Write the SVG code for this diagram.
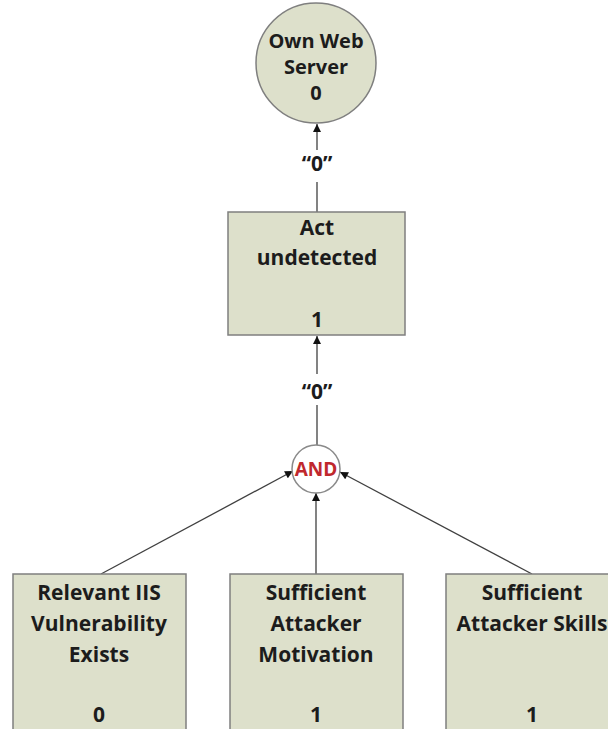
<svg xmlns="http://www.w3.org/2000/svg" width="608" height="729" viewBox="0 0 608 729">
<style>
.node{fill:#dde0cb;stroke:#7f7f7f;stroke-width:1.5}
.t{font-family:"Open Sans","Liberation Sans",sans-serif;font-weight:700;font-size:21px;fill:#1c1c1c;text-anchor:middle}
.tc{font-family:"Open Sans","Liberation Sans",sans-serif;font-weight:700;font-size:20px;fill:#1c1c1c;text-anchor:middle}
.lbl{font-family:"Open Sans","Liberation Sans",sans-serif;font-weight:700;font-size:21px;fill:#1c1c1c;text-anchor:middle}
.edge{stroke:#404040;stroke-width:1.3;fill:none}
.gate{fill:#ffffff;stroke:#8a8a8a;stroke-width:1.5}
.and{font-family:"Open Sans","Liberation Sans",sans-serif;font-weight:700;font-size:19px;fill:#c0282d;text-anchor:middle}
</style>
<defs>
<marker id="ah" viewBox="0 0 10 10" refX="10" refY="5" markerWidth="10" markerHeight="8" markerUnits="userSpaceOnUse" orient="auto">
<path d="M0,0 L10,5 L0,10 z" fill="#111"/>
</marker>
</defs>
<rect width="608" height="729" fill="#ffffff"/>
<g id="connectors">
<line class="edge" x1="317" y1="212" x2="317" y2="182"/>
<line class="edge" x1="317" y1="150" x2="317" y2="124" marker-end="url(#ah)"/>
<text class="lbl" x="317" y="171">“0”</text>
<line class="edge" x1="317" y1="445" x2="317" y2="405"/>
<line class="edge" x1="317" y1="374" x2="317" y2="336" marker-end="url(#ah)"/>
<text class="lbl" x="317" y="399">“0”</text>
<line class="edge" x1="101" y1="574" x2="293" y2="471" marker-end="url(#ah)"/>
<line class="edge" x1="316" y1="574" x2="316" y2="493" marker-end="url(#ah)"/>
<line class="edge" x1="532" y1="574" x2="340" y2="472" marker-end="url(#ah)"/>
</g>
<g id="own-web-server">
<circle class="node" cx="316" cy="63" r="60"/>
<text class="tc" x="316" y="48">Own Web</text>
<text class="tc" x="316" y="74">Server</text>
<text class="tc" x="316" y="100">0</text>
</g>
<g id="act-undetected">
<rect class="node" x="228" y="212" width="177" height="123"/>
<text class="t" x="317" y="235">Act</text>
<text class="t" x="317" y="265">undetected</text>
<text class="t" x="317" y="327">1</text>
</g>
<g id="and-gate">
<circle class="gate" cx="316" cy="469" r="24"/>
<text class="and" x="316" y="476">AND</text>
</g>
<g id="relevant-iis">
<rect class="node" x="13" y="574" width="173" height="170"/>
<text class="t" x="99" y="600">Relevant IIS</text>
<text class="t" x="99" y="631">Vulnerability</text>
<text class="t" x="99" y="662">Exists</text>
<text class="t" x="99" y="722">0</text>
</g>
<g id="attacker-motivation">
<rect class="node" x="230" y="574" width="173" height="170"/>
<text class="t" x="316" y="600">Sufficient</text>
<text class="t" x="316" y="631">Attacker</text>
<text class="t" x="316" y="662">Motivation</text>
<text class="t" x="316" y="722">1</text>
</g>
<g id="attacker-skills">
<rect class="node" x="446" y="574" width="174" height="170"/>
<text class="t" x="532" y="600">Sufficient</text>
<text class="t" x="532" y="631">Attacker Skills</text>
<text class="t" x="532" y="722">1</text>
</g>
</svg>
